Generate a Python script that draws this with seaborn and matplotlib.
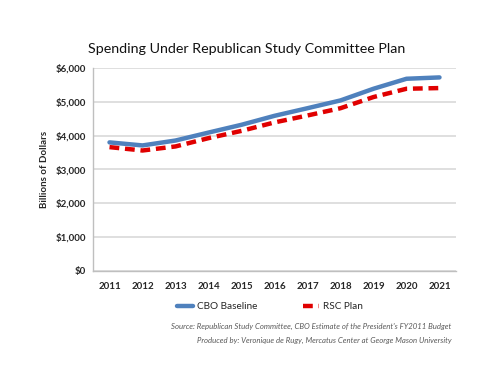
import matplotlib
matplotlib.use("Agg")
import matplotlib.pyplot as plt
import seaborn as sns
import pandas as pd

years = ["2011", "2012", "2013", "2014", "2015", "2016", "2017", "2018", "2019", "2020", "2021"]
cbo_baseline = [3800, 3710, 3855, 4090, 4320, 4585, 4810, 5040, 5385, 5680, 5720]
rsc_plan = [3660, 3560, 3680, 3925, 4140, 4390, 4595, 4810, 5140, 5385, 5405]
y_ticks = [0, 1000, 2000, 3000, 4000, 5000, 6000]
y_tick_labels = ["$0", "$1,000", "$2,000", "$3,000", "$4,000", "$5,000", "$6,000"]

sns.set_style("white")
plt.rcParams["font.family"] = ["Lato", "DejaVu Sans"]

df = pd.DataFrame({
    "Year": years * 2,
    "Value": cbo_baseline + rsc_plan,
    "Series": ["CBO Baseline"] * len(years) + ["RSC Plan"] * len(years),
})
df["pos"] = list(range(len(years))) * 2

fig = plt.figure(figsize=(5, 3.86), dpi=100)
ax = fig.add_axes([0.186, 0.298, 0.726, 0.526])

sns.lineplot(data=df[df.Series == "CBO Baseline"], x="pos", y="Value", ax=ax,
             color="#4F81BD", linewidth=3.2, label="CBO Baseline", legend=False)
sns.lineplot(data=df[df.Series == "RSC Plan"], x="pos", y="Value", ax=ax,
             color="#E00000", linewidth=3.2, linestyle=(0, (2.2, 1.3)), label="RSC Plan", legend=False)

ax.set_xlim(-0.5, len(years) - 0.5)
ax.set_ylim(0, 6000)
ax.set_xticks(range(len(years)))
ax.set_xticklabels(years, fontsize=7, fontweight="bold")
ax.set_yticks(y_ticks)
ax.set_yticklabels(y_tick_labels, fontsize=7, fontweight="bold")
ax.yaxis.grid(True, color="#D9D9D9", linewidth=1.2)
ax.set_axisbelow(True)
for s in ["top", "right"]:
    ax.spines[s].set_visible(False)
for s in ["left", "bottom"]:
    ax.spines[s].set_color("#BFBFBF")
    ax.spines[s].set_linewidth(1.0)
ax.tick_params(axis="y", length=0, pad=5)
ax.tick_params(axis="x", length=0, pad=8)
ax.set_xlabel("")
ax.set_ylabel("Billions of Dollars", fontsize=7, fontweight="bold", labelpad=5)

fig.text(0.176, 0.862, "Spending Under Republican Study Committee Plan", fontsize=10.3, color="#111111")

handles, labels = ax.get_legend_handles_labels()
fig.legend(handles, labels, loc="center", bbox_to_anchor=(0.54, 0.205), ncol=2, frameon=False,
           fontsize=7.2, handlelength=1.6, columnspacing=4.6, handletextpad=0.35)

fig.text(0.903, 0.148, "Source: Republican Study Committee, CBO Estimate of the President's FY2011 Budget",
         ha="right", fontsize=5.6, style="italic", color="#595959")
fig.text(0.903, 0.112, "Produced by: Veronique de Rugy, Mercatus Center at George Mason University",
         ha="right", fontsize=5.6, style="italic", color="#595959")

fig.savefig("out.png", dpi=100)
